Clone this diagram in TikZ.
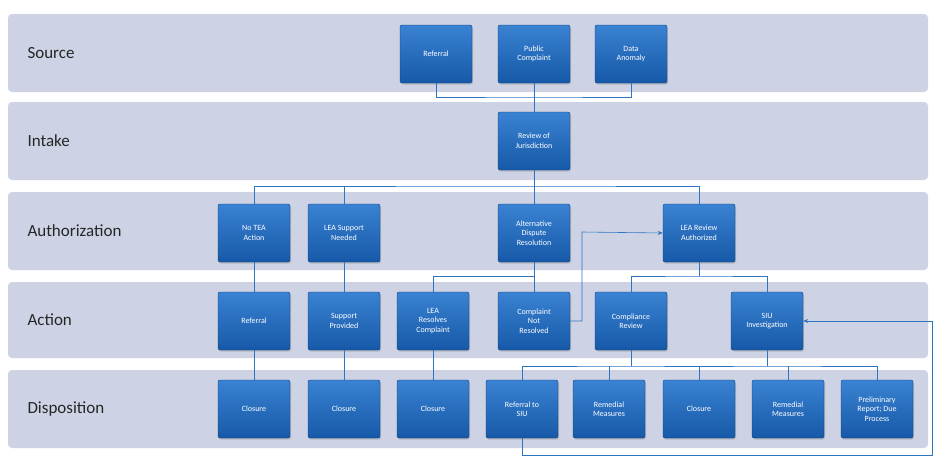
\documentclass[tikz,border=0pt]{standalone}
\usepackage{fontspec}
\setmainfont{Carlito}
\usetikzlibrary{arrows.meta,shadows}
\definecolor{band}{HTML}{CDD3E4}
\definecolor{btop}{HTML}{3A82D2}
\definecolor{bbot}{HTML}{1659A8}
\definecolor{ln}{HTML}{2E74C0}
\tikzset{
 band/.style={fill=band,draw=none,rounded corners=4pt},
 blabel/.style={anchor=west,font=\fontsize{17}{19}\selectfont,text=black!85},
 box/.style={draw=bbot!70!black,line width=0.4pt,rounded corners=2pt,top color=btop,bottom color=bbot,
   text=white,font=\fontsize{8}{9.5}\selectfont,align=center,minimum width=72pt,minimum height=58pt,
   inner sep=1pt,drop shadow={shadow xshift=1pt,shadow yshift=-1.5pt,opacity=0.35}},
 con/.style={draw=ln,line width=0.6pt},
 arr/.style={con,-{Stealth[length=5pt,width=4pt]}}
}
\begin{document}
\begin{tikzpicture}[x=1pt,y=-1pt]
\useasboundingbox (0,0) rectangle (943,467);
\fill[band] (8,14) rectangle (928,92);
\fill[band] (8,102) rectangle (928,180);
\fill[band] (8,192) rectangle (928,270);
\fill[band] (8,282) rectangle (928,358);
\fill[band] (8,370) rectangle (928,448);
\node[blabel] at (24,53) {Source};
\node[blabel] at (24,141) {Intake};
\node[blabel] at (24,231) {Authorization};
\node[blabel] at (24,320) {Action};
\node[blabel] at (24,409) {Disposition};
% source
\node[box] (s1) at (436,54) {Referral};
\node[box] (s2) at (534,54) {Public\\Complaint};
\node[box] (s3) at (631,54) {Data\\Anomaly};
\node[box] (in) at (534,141) {Review of\\Jurisdiction};
\node[box] (a1) at (254,233) {No TEA\\Action};
\node[box] (a2) at (344,233) {LEA Support\\Needed};
\node[box] (a3) at (534,233) {Alternative\\Dispute\\Resolution};
\node[box] (a4) at (699,233) {LEA Review\\Authorized};
\node[box] (c1) at (254,321) {Referral};
\node[box] (c2) at (344,321) {Support\\Provided};
\node[box] (c3) at (433,321) {LEA\\Resolves\\Complaint};
\node[box] (c4) at (534,321) {Complaint\\Not\\Resolved};
\node[box] (c5) at (631,321) {Compliance\\Review};
\node[box] (c6) at (767,321) {SIU\\Investigation};
\node[box] (d1) at (254,409) {Closure};
\node[box] (d2) at (344,409) {Closure};
\node[box] (d3) at (433,409) {Closure};
\node[box] (d4) at (522,409) {Referral to\\SIU};
\node[box] (d5) at (609,409) {Remedial\\Measures};
\node[box] (d6) at (699,409) {Closure};
\node[box] (d7) at (788,409) {Remedial\\Measures};
\node[box] (d8) at (877,409) {Preliminary\\Report; Due\\Process};
\begin{scope}[on background layer/.style={}]
\end{scope}
% connectors
\draw[con] (s1.south) |- (534,97) -| (s3.south);
\draw[con] (s2.south) -- (in.north);
\draw[con] (in.south) -- (534,186);
\draw[con] (a1.north) |- (534,186) -| (a4.north);
\draw[con] (a2.north) -- (344,186);
\draw[con] (534,186) -- (a3.north);
\draw[con] (a1.south) -- (c1.north);
\draw[con] (a2.south) -- (c2.north);
\draw[con] (a3.south) -- (534,276);
\draw[con] (c3.north) |- (534,276) -- (c4.north);
\draw[arr] (c4.east) -| (582,232) -- (a4.west);
\draw[con] (a4.south) -- (699,276);
\draw[con] (c5.north) |- (699,276) -| (c6.north);
\draw[con] (c1.south) -- (d1.north);
\draw[con] (c2.south) -- (d2.north);
\draw[con] (c3.south) -- (d3.north);
\draw[con] (c5.south) -- (631,366);
\draw[con] (d4.north) |- (631,366) -| (d6.north);
\draw[con] (d5.north) -- (609,366);
\draw[con] (c6.south) -- (767,366);
\draw[con] (d6.north) |- (767,366) -| (d8.north);
\draw[con] (d7.north) -- (788,366);
\draw[arr] (d4.south) |- (932,455) |- (c6.east);
\end{tikzpicture}
\end{document}
